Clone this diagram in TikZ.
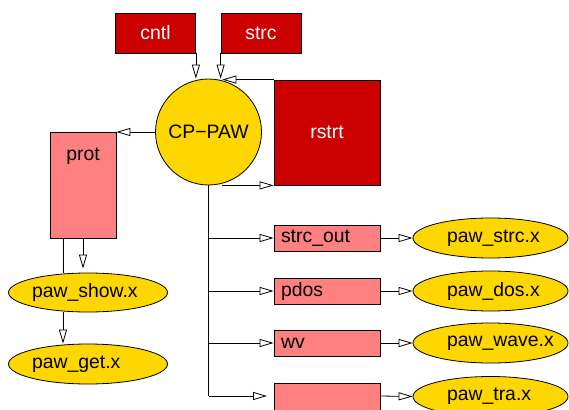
\documentclass[tikz,border=0pt]{standalone}
\usepackage{fontspec}
\setmainfont{Liberation Sans}
\usetikzlibrary{shapes.geometric, arrows.meta}

\definecolor{boxred}{HTML}{CC0000}
\definecolor{boxpink}{HTML}{FF8080}
\definecolor{progold}{HTML}{FFD700}

\begin{document}
\begin{tikzpicture}[x=1pt, y=-1pt, line width=0.8pt,
  every node/.style={anchor=center, draw, align=center, inner sep=0pt, font=\fontsize{19.4}{23}\selectfont},
  input/.style={fill=boxred, text=white, minimum width=80pt, minimum height=40pt},
  output/.style={fill=boxpink, minimum width=106pt, minimum height=26pt, text width=92pt, align=left},
  prog/.style={ellipse, fill=progold, minimum width=155pt, minimum height=40pt, text width=87pt, align=left},
  arr/.style={-{Triangle[open, length=14pt, width=8pt]}}]
  \useasboundingbox (0,0) rectangle (569,409);
  \clip (0,0) rectangle (569,409);

  \node[input] (cntl) at (155.5,33) {cntl};
  \node[input] (strc) at (261,33) {strc};
  \node[circle, fill=progold, minimum size=106pt] (cp) at (208.5,132) {CP−PAW};
  \node[input, minimum width=106pt, minimum height=105pt] (rstrt) at (327,132.5) {rstrt};
  \node[fill=boxpink, minimum width=66pt, text height=28pt, text depth=78pt] (prot) at (83,185) {prot};
  \node[prog, minimum width=159pt, minimum height=39pt, text width=112pt] (show) at (88,292.5) {paw\_show.x};
  \node[prog, minimum width=159pt, text width=112pt] (get) at (88,364) {paw\_get.x};
  \coordinate (pl) at (63,238);

  \node[output] (sout) at (327,238) {strc\_out};
  \node[output] (pdos) at (327,291) {pdos};
  \node[output] (wv)   at (327,343) {wv};
  \node[output, minimum height=34pt] (tra) at (327,400) {};
  \coordinate (tw) at (274,396);

  \node[prog] (pstrc) at (490.5,238) {paw\_strc.x};
  \node[prog] (pdosx) at (490.5,291) {paw\_dos.x};
  \node[prog] (pwave) at (490.5,343) {paw\_wave.x};
  \node[prog] (ptra)  at (490.5,396.5) {paw\_tra.x};

  \path[draw, arr] (cntl.south east) -- (cntl.south east |- cp.north);
  \path[draw, arr] (strc.south west) -- (strc.south west |- cp.north);
  \path[draw, arr] (rstrt.north west) -- (cp.75 |- rstrt.north west);
  \path[draw, arr] (cp.-75 |- rstrt.south west) -- (rstrt.south west);
  \path[draw, arr] (cp.west) -- (cp.west -| prot.east);

  \path[draw] (pl) -- (pl |- show.north);
  \path[draw, arr, shorten >=4pt] (prot.south) -- (prot.south |- show.north);
  \path[draw, arr] (pl |- show.south) -- (pl |- get.north);

  \path[draw] (cp.south) -- (cp.south |- tw);
  \foreach \o in {sout, pdos, wv}
    \path[draw, arr] (cp.south |- \o.west) -- (\o.west);
  \path[draw, arr, shorten >=7pt] (cp.south |- tw) -- (tw);
  \path[draw, arr] (tw -| tra.east) -- (ptra.west);
  \foreach \o/\p in {sout/pstrc, pdos/pdosx, wv/pwave}
    \path[draw, arr] (\o.east) -- (\p.west);
\end{tikzpicture}
\end{document}
